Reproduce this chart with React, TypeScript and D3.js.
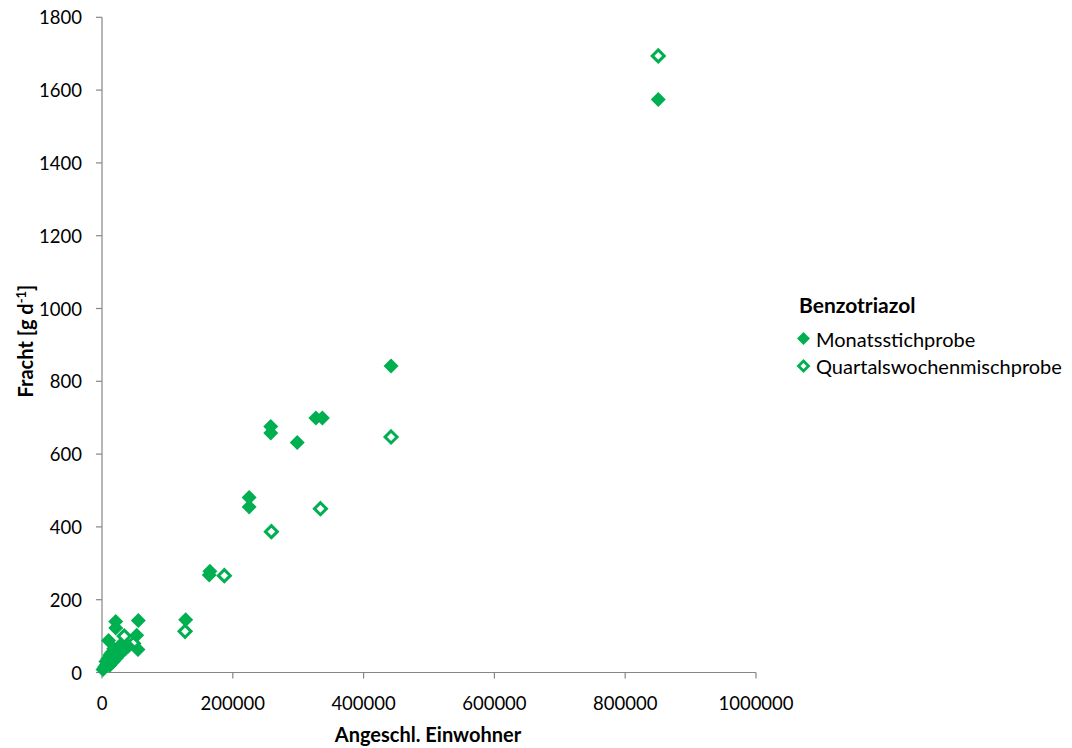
import React from "react";
import * as d3 from "d3";

// Benzotriazol loads vs. connected population
const monatsX = [850500, 442000, 258000, 258000, 298500, 327000, 337000, 225000, 225000, 165000, 164000, 128000,
  55500, 53000, 55000, 21000, 21000, 10000,
  1500, 4000, 7000, 10000, 13000, 16000, 19000, 22000, 25000, 28000,
  6000, 9000, 12000, 15000, 18000, 12000, 17000, 22000, 26000, 30000, 36000, 40000];
const monatsY = [1574, 842, 676, 658, 632, 699, 699, 481, 455, 278, 268, 145,
  143, 102, 63, 140, 122, 88,
  8, 15, 22, 30, 38, 45, 52, 60, 68, 75,
  30, 38, 48, 55, 65, 20, 30, 40, 48, 58, 65, 72];

const quartalX = [850500, 442000, 334000, 259000, 187000, 127000, 34000, 48000, 20000, 10000, 30000];
const quartalY = [1694, 647, 450, 387, 266, 113, 100, 80, 50, 25, 70];

const xTicks = [0, 200000, 400000, 600000, 800000, 1000000];
const yTicks = [0, 200, 400, 600, 800, 1000, 1200, 1400, 1600, 1800];

const legendTitle = "Benzotriazol";
const seriesNames = ["Monatsstichprobe", "Quartalswochenmischprobe"];

const GREEN = "#00B050";
const AXIS = "#868686";
const FONT = "Lato, 'Open Sans', sans-serif";

export default function App() {
  const x = d3.scaleLinear().domain([0, 1000000]).range([102, 756]);
  const y = d3.scaleLinear().domain([0, 1800]).range([672.5, 17.3]);

  const diamond = (cx: number, cy: number, r: number) =>
    `M${cx},${cy - r}L${cx + r},${cy}L${cx},${cy + r}L${cx - r},${cy}Z`;

  return (
    <svg width={1072} height={748} style={{ position: "absolute", left: 0, top: 0, background: "#fff" }}
      fontFamily={FONT}>
      {/* axes */}
      <line x1={x(0)} x2={x(0)} y1={y(1800)} y2={y(0)} stroke={AXIS} strokeWidth={1.2} />
      <line x1={x(0)} x2={x(1000000)} y1={y(0)} y2={y(0)} stroke={AXIS} strokeWidth={1.2} />
      {yTicks.map((t) => (
        <g key={"y" + t}>
          <line x1={x(0) - 6} x2={x(0)} y1={y(t)} y2={y(t)} stroke={AXIS} strokeWidth={1.2} />
          <text x={82} y={y(t) + 7} textAnchor="end" fontSize={18.5} fill="#000">{t}</text>
        </g>
      ))}
      {xTicks.map((t) => (
        <g key={"x" + t}>
          <line x1={x(t)} x2={x(t)} y1={y(0)} y2={y(0) + 6} stroke={AXIS} strokeWidth={1.2} />
          <text x={x(t)} y={710} textAnchor="middle" fontSize={18.5} fill="#000">{t}</text>
        </g>
      ))}

      {/* axis titles */}
      <text x={428} y={742} textAnchor="middle" fontSize={20} fontWeight="bold" fill="#000">Angeschl. Einwohner</text>
      <text transform="translate(33,341) rotate(-90)" textAnchor="middle" fontSize={20} fontWeight="bold" fill="#000">
        Fracht [g d<tspan dy={-7} fontSize={13}>-1</tspan><tspan dy={7}>]</tspan>
      </text>

      {/* Monatsstichprobe: filled diamonds */}
      {monatsX.map((v, i) => (
        <path key={"m" + i} d={diamond(x(v), y(monatsY[i]), 7.5)} fill={GREEN} />
      ))}
      {/* Quartalswochenmischprobe: open diamonds */}
      {quartalX.map((v, i) => (
        <path key={"q" + i} d={diamond(x(v), y(quartalY[i]), 6)} fill="none" stroke={GREEN} strokeWidth={3} />
      ))}

      {/* legend */}
      <text x={799} y={313} fontSize={21} fontWeight="bold" fill="#000">{legendTitle}</text>
      <path d={diamond(803.5, 338.5, 6.5)} fill={GREEN} />
      <text x={816} y={347} fontSize={20} fill="#000">{seriesNames[0]}</text>
      <path d={diamond(803.5, 366, 5)} fill="none" stroke={GREEN} strokeWidth={2.8} />
      <text x={816} y={374} fontSize={20} fill="#000">{seriesNames[1]}</text>
    </svg>
  );
}
